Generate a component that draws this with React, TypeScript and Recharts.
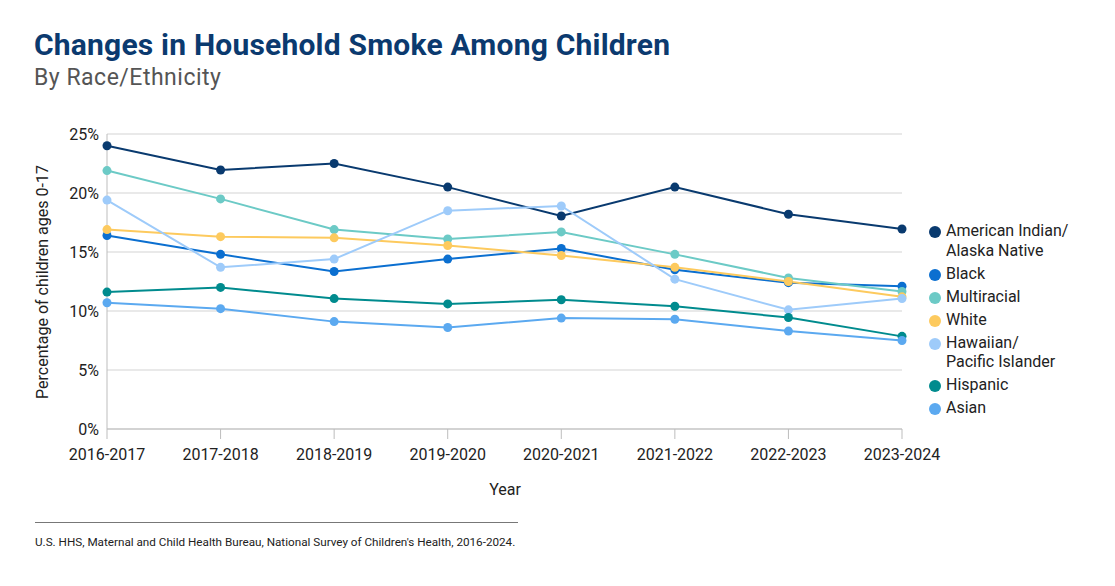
import React from 'react';
import { LineChart, Line, XAxis, YAxis, CartesianGrid } from 'recharts';

const years = ['2016-2017', '2017-2018', '2018-2019', '2019-2020', '2020-2021', '2021-2022', '2022-2023', '2023-2024'];

const americanIndian = [24.0, 21.95, 22.5, 20.5, 18.05, 20.5, 18.2, 16.95];
const black = [16.4, 14.8, 13.35, 14.4, 15.3, 13.5, 12.4, 12.1];
const multiracial = [21.9, 19.5, 16.9, 16.1, 16.7, 14.8, 12.8, 11.65];
const white = [16.9, 16.3, 16.2, 15.55, 14.7, 13.7, 12.5, 11.2];
const hawaiian = [19.4, 13.7, 14.4, 18.5, 18.9, 12.7, 10.1, 11.05];
const hispanic = [11.6, 12.0, 11.05, 10.6, 10.95, 10.4, 9.45, 7.85];
const asian = [10.7, 10.2, 9.1, 8.6, 9.4, 9.3, 8.3, 7.5];

const yTicks = [0, 5, 10, 15, 20, 25];

const series = [
  { key: 'americanIndian', label: ['American Indian/', 'Alaska Native'], color: '#093a6f', values: americanIndian },
  { key: 'black', label: ['Black'], color: '#0b6fd0', values: black },
  { key: 'multiracial', label: ['Multiracial'], color: '#6ccac6', values: multiracial },
  { key: 'white', label: ['White'], color: '#fdca5e', values: white },
  { key: 'hawaiian', label: ['Hawaiian/', 'Pacific Islander'], color: '#9ecbfa', values: hawaiian },
  { key: 'hispanic', label: ['Hispanic'], color: '#008b8e', values: hispanic },
  { key: 'asian', label: ['Asian'], color: '#5ba9f0', values: asian },
];

const data = years.map((year, i) => {
  const row: { [k: string]: any } = { year };
  series.forEach(s => { row[s.key] = s.values[i]; });
  return row;
});

const FONT = 'Roboto, "Noto Sans", sans-serif';
const NARROW = '"Liberation Sans Narrow", Roboto, sans-serif';

export default function App() {
  return (
    <div style={{ position: 'absolute', left: 0, top: 0, width: 1115, height: 586, background: '#fff', fontFamily: FONT, overflow: 'hidden' }}>
      <div style={{ position: 'absolute', left: 34, top: 27, fontSize: 30, fontWeight: 700, color: '#0b3a6f', letterSpacing: 0.2 }}>
        Changes in Household Smoke Among Children
      </div>
      <div style={{ position: 'absolute', left: 34, top: 64, fontSize: 23, color: '#555', letterSpacing: 0.5 }}>
        By Race/Ethnicity
      </div>

      <div style={{ position: 'absolute', left: 0, top: 0 }}>
        <LineChart
          width={1115}
          height={586}
          data={data}
          margin={{ top: 134, left: 47, right: 213, bottom: 127 }}
        >
          <CartesianGrid vertical={false} stroke="#d3d3d3" />
          <XAxis
            dataKey="year"
            height={30}
            stroke="#bdbdbd"
            tickSize={10}
            tickMargin={10}
            tick={{ fill: '#222', fontSize: 16, fontFamily: NARROW }}
            interval={0}
          />
          <YAxis
            width={60}
            domain={[0, 25]}
            ticks={yTicks}
            tickFormatter={(v: number) => `${v}%`}
            stroke="#bdbdbd"
            tickLine={false}
            tick={{ fill: '#222', fontSize: 16, fontFamily: FONT }}
          />
          {series.map(s => (
            <Line
              key={s.key}
              dataKey={s.key}
              stroke={s.color}
              strokeWidth={2}
              dot={{ r: 4.5, fill: s.color, stroke: 'none' }}
              activeDot={false}
              isAnimationActive={false}
            />
          ))}
        </LineChart>
      </div>

      <div style={{ position: 'absolute', left: 42, top: 282, transform: 'translate(-50%, -50%) rotate(-90deg)', fontSize: 16, color: '#222', whiteSpace: 'nowrap' }}>
        Percentage of children ages 0-17
      </div>
      <div style={{ position: 'absolute', left: 505, top: 480, transform: 'translateX(-50%)', fontSize: 16, color: '#222' }}>
        Year
      </div>

      <div style={{ position: 'absolute', left: 929, top: 221 }}>
        {series.map(s => (
          <div key={s.key} style={{ display: 'flex', alignItems: 'flex-start', marginBottom: 3.5 }}>
            <div style={{ width: 12, height: 12, borderRadius: 6, background: s.color, marginTop: 5, marginRight: 5 }} />
            <div style={{ fontSize: 16, lineHeight: '19.5px', color: '#222' }}>
              {s.label.map((l, i) => <div key={i}>{l}</div>)}
            </div>
          </div>
        ))}
      </div>

      <div style={{ position: 'absolute', left: 35, top: 522, width: 483, height: 1, background: '#777' }} />
      <div style={{ position: 'absolute', left: 35, top: 535, fontSize: 11.7, color: '#222', fontFamily: NARROW }}>
        U.S. HHS, Maternal and Child Health Bureau, National Survey of Children's Health, 2016-2024.
      </div>
    </div>
  );
}
